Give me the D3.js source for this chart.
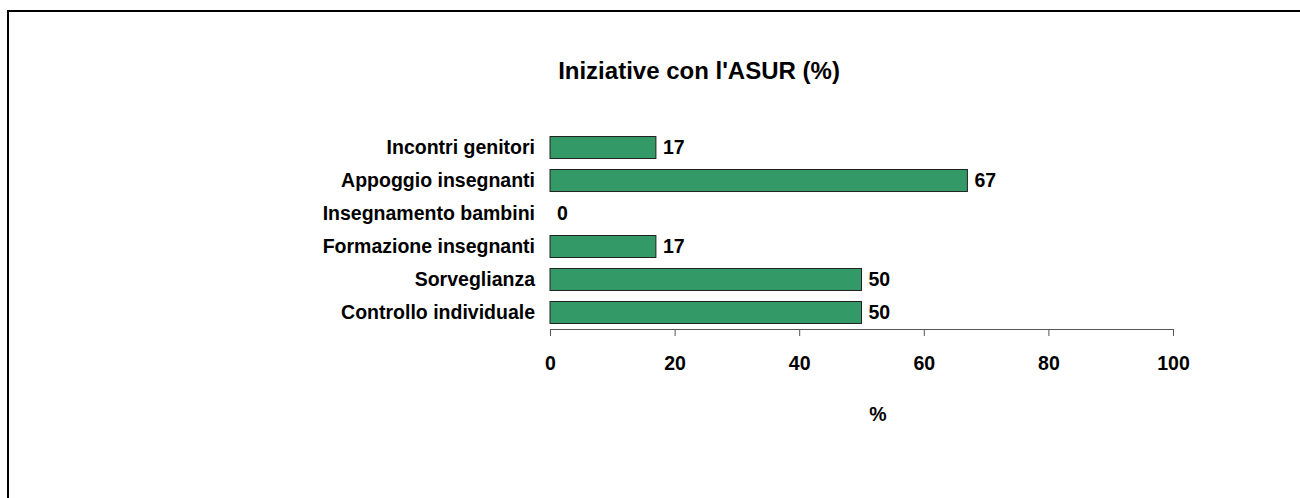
<!DOCTYPE html>
<html>
<head>
<meta charset="utf-8">
<script src="https://cdn.jsdelivr.net/npm/d3@7"></script>
<style>
  html, body { margin: 0; padding: 0; background: #fff; }
  svg { display: block; }
  text { font-family: Arial, "Liberation Sans", sans-serif; font-weight: bold; fill: #000; }
</style>
</head>
<body>
<script>
const categories = ["Incontri genitori", "Appoggio insegnanti", "Insegnamento bambini", "Formazione insegnanti", "Sorveglianza", "Controllo individuale"];
const values = [17, 67, 0, 17, 50, 50];
const xTicks = [0, 20, 40, 60, 80, 100];
const title = "Iniziative con l'ASUR (%)";
const xTitle = "%";

const W = 1300, H = 498;
const FS = 19.5;
const svg = d3.select("body").append("svg").attr("width", W).attr("height", H);

// outer frame (extends beyond right/bottom edges)
svg.append("rect").attr("x", 8).attr("y", 11).attr("width", W + 20).attr("height", H + 20)
  .attr("fill", "none").attr("stroke", "#000").attr("stroke-width", 2);

const x = d3.scaleLinear().domain([0, 100]).range([550, 1173]);
const y = d3.scaleBand().domain(categories).range([131, 329]).paddingInner(0.333).paddingOuter(0.167);

svg.append("text").attr("x", 699).attr("y", 79).attr("text-anchor", "middle")
  .style("font-size", "24px").text(title);

const g = svg.append("g");
g.selectAll("rect.bar").data(values.map((v, i) => ({v, c: categories[i]})).filter(d => d.v > 0))
  .enter().append("rect").attr("class", "bar")
  .attr("x", x(0)).attr("y", d => y(d.c))
  .attr("width", d => x(d.v) - x(0)).attr("height", y.bandwidth())
  .attr("fill", "#339966").attr("stroke", "#222").attr("stroke-width", 1);

g.selectAll("text.val").data(values.map((v, i) => ({v, c: categories[i]})))
  .enter().append("text").attr("class", "val")
  .attr("x", d => x(d.v) + 7).attr("y", d => y(d.c) + y.bandwidth() / 2 + 6.5)
  .style("font-size", FS + "px").text(d => d.v);

g.selectAll("text.cat").data(categories).enter().append("text").attr("class", "cat")
  .attr("x", 535).attr("y", d => y(d) + y.bandwidth() / 2 + 6.5).attr("text-anchor", "end")
  .style("font-size", FS + "px").text(d => d);

const axis = svg.append("g").attr("transform", "translate(0,329)")
  .call(d3.axisBottom(x).tickValues(xTicks).tickSize(7).tickSizeOuter(0).tickPadding(20).tickFormat(d3.format("d")));
axis.select(".domain").attr("stroke", "#555");
axis.selectAll(".tick line").attr("stroke", "#555");
axis.selectAll(".tick text").style("font-size", FS + "px").style("font-family", "Arial, 'Liberation Sans', sans-serif").style("font-weight", "bold").attr("fill", "#000");

svg.append("text").attr("x", 878).attr("y", 421).attr("text-anchor", "middle")
  .style("font-size", FS + "px").text(xTitle);
</script>
</body>
</html>
